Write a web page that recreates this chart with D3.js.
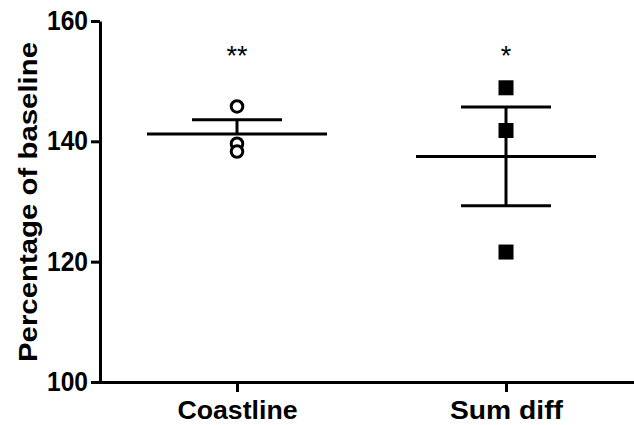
<!DOCTYPE html>
<html><head><meta charset="utf-8">
<script src="https://cdn.jsdelivr.net/npm/d3@7"></script>
<style>body{margin:0;background:#fff}svg{display:block}</style>
</head><body>
<script>
const categories = ["Coastline", "Sum diff"];
const coastlineValues = [145.8, 139.6, 138.3];
const sumDiffValues = [148.9, 141.8, 121.6];
const meanValues = [141.2, 137.5];
const semValues = [2.4, 8.2];
const errorDirection = ["up", "both"];
const significance = ["**", "*"];
const yTicks = [100, 120, 140, 160];

const W = 634, H = 425;
const svg = d3.select("body").append("svg").attr("width", W).attr("height", H);

const y = d3.scaleLinear().domain([100, 160]).range([382, 21]);
const x = d3.scalePoint().domain(categories).range([237, 506]);
const font = "'Liberation Sans', Arial, sans-serif";

// Y axis
const yAxis = svg.append("g").attr("transform", "translate(100,0)")
  .call(d3.axisLeft(y).tickValues(yTicks).tickSize(9).tickSizeOuter(0).tickPadding(3).tickFormat(d3.format("d")));
yAxis.select(".domain").attr("stroke", "#000").attr("stroke-width", 3);
yAxis.selectAll(".tick line").attr("stroke", "#000").attr("stroke-width", 3);
yAxis.selectAll(".tick text").attr("font-family", font).attr("font-weight", "bold")
  .attr("font-size", 27).attr("fill", "#000").attr("textLength", 41).attr("lengthAdjust", "spacingAndGlyphs");

// X axis
svg.append("line").attr("x1", 98.5).attr("x2", 634).attr("y1", 382.5).attr("y2", 382.5)
  .attr("stroke", "#000").attr("stroke-width", 3);
const xAxis = svg.append("g").attr("transform", "translate(0,382)")
  .call(d3.axisBottom(x).tickSize(10).tickSizeOuter(0).tickPadding(10));
xAxis.select(".domain").remove();
xAxis.selectAll(".tick line").attr("stroke", "#000").attr("stroke-width", 3);
const xLens = {"Coastline": 120, "Sum diff": 113};
xAxis.selectAll(".tick text").attr("font-family", font).attr("font-weight", "bold")
  .attr("font-size", 25).attr("fill", "#000").attr("dy", "0.68em")
  .attr("textLength", d => xLens[d]).attr("lengthAdjust", "spacingAndGlyphs");

// Y label
svg.append("text").attr("transform", "translate(37,202) rotate(-90)")
  .attr("text-anchor", "middle").attr("font-family", font).attr("font-weight", "bold")
  .attr("font-size", 25).attr("textLength", 320).attr("lengthAdjust", "spacingAndGlyphs")
  .text("Percentage of baseline");

// Mean and SEM
const g = svg.append("g").attr("stroke", "#000").attr("stroke-width", 3);
categories.forEach((c, i) => {
  const cx = x(c), m = meanValues[i], s = semValues[i];
  g.append("line").attr("x1", cx - 90).attr("x2", cx + 90).attr("y1", y(m)).attr("y2", y(m));
  const top = m + s, bot = errorDirection[i] === "both" ? m - s : m;
  g.append("line").attr("x1", cx).attr("x2", cx).attr("y1", y(top)).attr("y2", y(bot));
  g.append("line").attr("x1", cx - 45).attr("x2", cx + 45).attr("y1", y(top)).attr("y2", y(top));
  if (errorDirection[i] === "both")
    g.append("line").attr("x1", cx - 45).attr("x2", cx + 45).attr("y1", y(bot)).attr("y2", y(bot));
});

// Points
svg.append("g").selectAll("circle").data(coastlineValues).join("circle")
  .attr("cx", x("Coastline")).attr("cy", d => y(d)).attr("r", 5.8)
  .attr("fill", "#fff").attr("stroke", "#000").attr("stroke-width", 3);
const sq = 15;
svg.append("g").selectAll("rect").data(sumDiffValues).join("rect")
  .attr("x", x("Sum diff") - sq / 2).attr("y", d => y(d) - sq / 2)
  .attr("width", sq).attr("height", sq).attr("fill", "#000");

// Significance
svg.append("g").selectAll("text").data(significance).join("text")
  .attr("x", (d, i) => x(categories[i])).attr("y", 65)
  .attr("text-anchor", "middle").attr("font-family", font).attr("font-size", 27)
  .text(d => d);
</script>
</body></html>
